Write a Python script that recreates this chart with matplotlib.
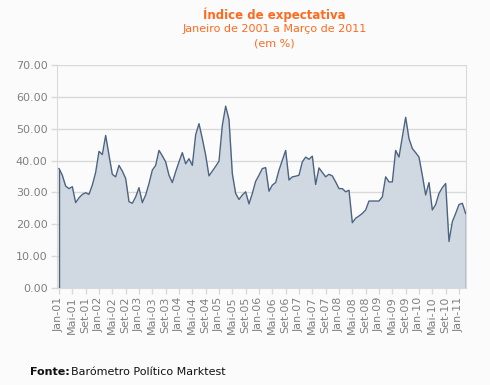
import numpy as np
import matplotlib
matplotlib.use("Agg")
from matplotlib import pyplot as plt

# Monthly index, Jan-2001 .. Mar-2011
values_2001 = [37.5, 35.4, 32.0, 31.2, 31.8, 26.8, 28.3, 29.4, 29.9, 29.4, 32.3, 36.3]
values_2002 = [42.9, 41.9, 47.9, 41.7, 35.7, 34.9, 38.5, 36.7, 34.4, 27.1, 26.6, 28.6]
values_2003 = [31.5, 26.8, 29.2, 32.8, 37.0, 38.5, 43.2, 41.5, 39.6, 35.4, 33.1, 36.5]
values_2004 = [39.6, 42.5, 39.0, 40.6, 38.5, 48.1, 51.6, 46.9, 41.7, 35.2, 36.7, 38.2]
values_2005 = [39.8, 51.0, 57.1, 52.9, 35.9, 29.7, 27.8, 29.2, 30.2, 26.4, 29.7, 33.5]
values_2006 = [35.4, 37.5, 37.8, 30.4, 32.3, 33.1, 37.0, 40.1, 43.2, 33.9, 34.9, 35.1]
values_2007 = [35.4, 39.6, 41.1, 40.4, 41.4, 32.5, 37.7, 36.3, 34.9, 35.7, 35.2, 33.3]
values_2008 = [31.2, 31.2, 30.2, 30.7, 20.5, 21.9, 22.6, 23.4, 24.5, 27.3, 27.3, 27.3]
values_2009 = [27.3, 28.6, 34.9, 33.3, 33.3, 43.2, 41.1, 47.4, 53.6, 46.9, 43.8, 42.5]
values_2010 = [41.1, 35.4, 29.2, 33.1, 24.5, 26.2, 29.7, 31.5, 32.8, 14.6, 20.8, 23.4]
values_2011 = [26.2, 26.6, 23.4]

month_names = ["Jan", "Fev", "Mar", "Abr", "Mai", "Jun",
               "Jul", "Ago", "Set", "Out", "Nov", "Dez"]
y_ticks = [0, 10, 20, 30, 40, 50, 60, 70]

values = np.array(values_2001 + values_2002 + values_2003 + values_2004 +
                  values_2005 + values_2006 + values_2007 + values_2008 +
                  values_2009 + values_2010 + values_2011)
x = np.arange(len(values))
labels = [f"{month_names[i % 12]}-{(1 + i // 12):02d}" for i in x]

BG = "#fbfbfb"
FILL = "#d0d8e1"
LINE = "#4c6482"
GRID = "#d9d9d9"
TXT = "#808080"
ORANGE = "#ff6a1f"

fig = plt.figure(figsize=(4.9, 3.85), dpi=100, facecolor=BG)
ax = fig.add_axes([0.117, 0.252, 0.834, 0.579], facecolor=BG)

ax.fill_between(x, values, 0, color=FILL, linewidth=0, zorder=2)
ax.plot(x, values, color=LINE, linewidth=1.0, zorder=3)
# dark edges closing the area at both ends
ax.vlines([x[0], x[-1]], 0, [values[0], values[-1]], color=LINE, linewidth=1.0, zorder=3)

ax.set_xlim(-0.5, 122.1)
ax.set_ylim(0, 70)
ax.set_yticks(y_ticks)
ax.set_yticklabels([f"{v:.2f}" for v in y_ticks])
ax.set_xticks(x[::4])
ax.set_xticklabels(labels[::4], rotation=90)
ax.yaxis.grid(True, color=GRID, linewidth=1.0, zorder=1)
ax.set_axisbelow(True)

for side in ["left", "right", "bottom"]:
    ax.spines[side].set_color(GRID)
ax.spines["top"].set_visible(False)
ax.tick_params(axis="both", colors=GRID, labelcolor=TXT, labelsize=8, length=4, width=1)
ax.tick_params(axis="y", pad=3)
ax.tick_params(axis="x", pad=2)

fig.text(0.56, 0.962, "Índice de expectativa", ha="center", va="center",
         color=ORANGE, fontsize=8.5, fontweight="bold")
fig.text(0.56, 0.925, "Janeiro de 2001 a Março de 2011", ha="center", va="center",
         color=ORANGE, fontsize=8)
fig.text(0.56, 0.888, "(em %)", ha="center", va="center", color=ORANGE, fontsize=8)

fig.text(0.061, 0.034, "Fonte:", ha="left", va="center", fontsize=8,
         fontweight="bold", color="#111111")
fig.text(0.145, 0.034, "Barómetro Político Marktest", ha="left", va="center",
         fontsize=8, color="#111111")

fig.savefig("out.png", dpi=100, facecolor=BG)
